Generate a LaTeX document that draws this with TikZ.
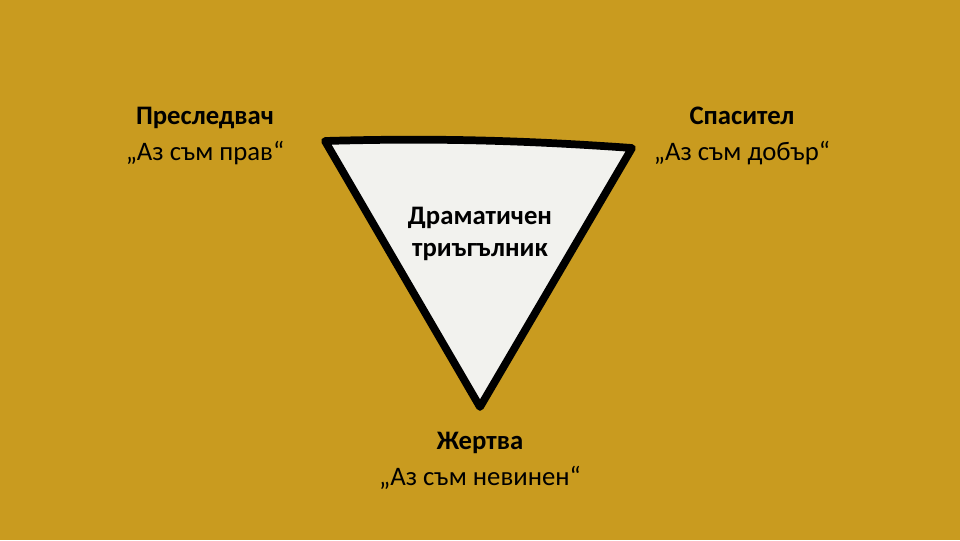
\documentclass[tikz,border=0pt]{standalone}
\usepackage{fontspec}
\setmainfont{Carlito}
\usetikzlibrary{positioning}
\definecolor{gold}{RGB}{201,155,31}
\definecolor{paper}{RGB}{242,242,238}
\tikzset{role/.style={inner sep=0pt,text height=13.5pt,text depth=4.5pt,font=\bfseries\fontsize{19}{22}\selectfont}}
\tikzset{saying/.style={inner sep=0pt,text height=13.5pt,text depth=4.5pt,font=\fontsize{19}{22}\selectfont}}

\begin{document}
\begin{tikzpicture}[x=0.025cm,y=-0.025cm,node distance=7pt]
      \fill[gold] (0,0) rectangle (960,540);
      \coordinate(L) at (325,141);
      \coordinate(R) at (632,148);
      \coordinate(B) at (480,407);
      \draw[line width=5.5pt,line join=round,fill=paper]
        (L) .. controls (430,138) and (520,140) .. (R) -- (B) -- cycle;

      \node[align=center,font=\bfseries\fontsize{19}{22.8}\selectfont](T) at (480,234){Драматичен\\триъгълник};

      \node[role](P) at (205,118){Преследвач};
      \node[saying,below=of P](Pq){„Аз съм прав“};
      \node[role](S) at (742,118){Спасител};
      \node[saying,below=of S](Sq){„Аз съм добър“};
      \node[role](V) at (480,443){Жертва};
      \node[saying,below=of V](Vq){„Аз съм невинен“};
    \end{tikzpicture}
\end{document}
